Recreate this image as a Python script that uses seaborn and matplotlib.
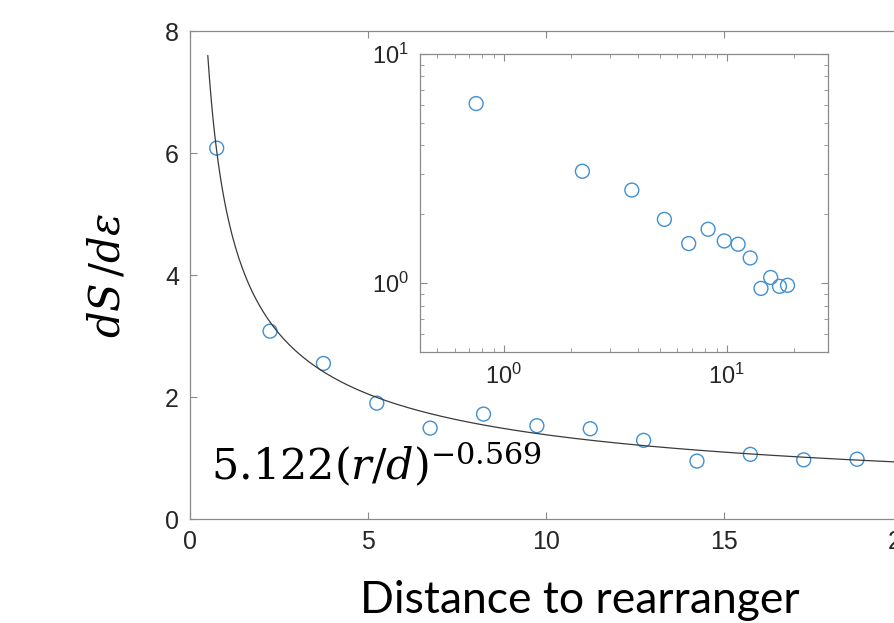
import numpy as np
import pandas as pd
import matplotlib
matplotlib.use("Agg")
import matplotlib.pyplot as plt
import seaborn as sns

# datos
distancia = [0.75, 2.25, 3.75, 5.25, 6.75, 8.25, 9.75, 11.25, 12.75, 14.25, 15.75, 17.25, 18.75]
dS_de = [6.08, 3.08, 2.55, 1.90, 1.49, 1.72, 1.53, 1.48, 1.29, 0.95, 1.06, 0.97, 0.98]

# ajuste de ley de potencia mostrado en el gráfico
coef_ajuste = 5.122
expo_ajuste = -0.569
r_ajuste = np.linspace(0.5, 20, 400)

xticks_main = [0, 5, 10, 15, 20]
yticks_main = [0, 2, 4, 6, 8]

df = pd.DataFrame({"r": distancia, "dS": dS_de})
df_fit = pd.DataFrame({"r": r_ajuste, "dS": coef_ajuste * r_ajuste ** expo_ajuste})

sns.set_theme(style="ticks")
plt.rcParams["font.family"] = ["Liberation Sans", "DejaVu Sans"]
plt.rcParams["mathtext.fontset"] = "stix"

azul = "#3f8fd2"
gris_eje = "#8a8a8a"
gris_txt = "#262626"

fig = plt.figure(figsize=(8.95, 6.23), dpi=100)

# ejes principales (se salen por la derecha como en el original)
ax = fig.add_axes([0.2123, 0.1669, 0.795, 0.7833])
sns.lineplot(data=df_fit, x="r", y="dS", ax=ax, color="#3a3a3a", linewidth=0.9)
sns.scatterplot(data=df, x="r", y="dS", ax=ax, marker="o", s=100,
                facecolors="none", edgecolor=azul, linewidth=1.0)
ax.set_xlim(0, 20)
ax.set_ylim(0, 8)
ax.set_xticks(xticks_main)
ax.set_yticks(yticks_main)
ax.tick_params(direction="in", top=True, right=True, length=5, width=0.8,
               color=gris_eje, labelsize=18, labelcolor=gris_txt, pad=8)
for s in ax.spines.values():
    s.set_color(gris_eje)
    s.set_linewidth(0.9)
ax.set_xlabel("Distance to rearranger", fontsize=32, family=["Lato", "DejaVu Sans"],
              color="black")
ax.xaxis.set_label_coords(0.548, -0.125)
ax.set_ylabel(r"$dS\,/d\varepsilon$", fontsize=30, color="black", labelpad=26,
              math_fontfamily="dejavuserif")
ax.text(0.6, 0.64, r"$5.122(r/d)^{-0.569}$", fontsize=31, color="black",
        math_fontfamily="dejavuserif")

# recuadro log-log
axi = fig.add_axes([0.4693, 0.4345, 0.4555, 0.4788])
sns.scatterplot(data=df, x="r", y="dS", ax=axi, marker="o", s=100,
                facecolors="none", edgecolor=azul, linewidth=1.0)
axi.set_xscale("log")
axi.set_yscale("log")
axi.set_xlim(0.42, 28.4)
axi.set_ylim(0.5, 10)
axi.set_xlabel("")
axi.set_ylabel("")
axi.tick_params(which="both", direction="in", top=True, right=True,
                color=gris_eje, labelsize=17, labelcolor=gris_txt, pad=8)
axi.tick_params(which="major", length=5, width=0.8)
axi.tick_params(which="minor", length=3, width=0.6)
for s in axi.spines.values():
    s.set_color(gris_eje)
    s.set_linewidth(0.9)

fig.savefig("out.png", dpi=100)
